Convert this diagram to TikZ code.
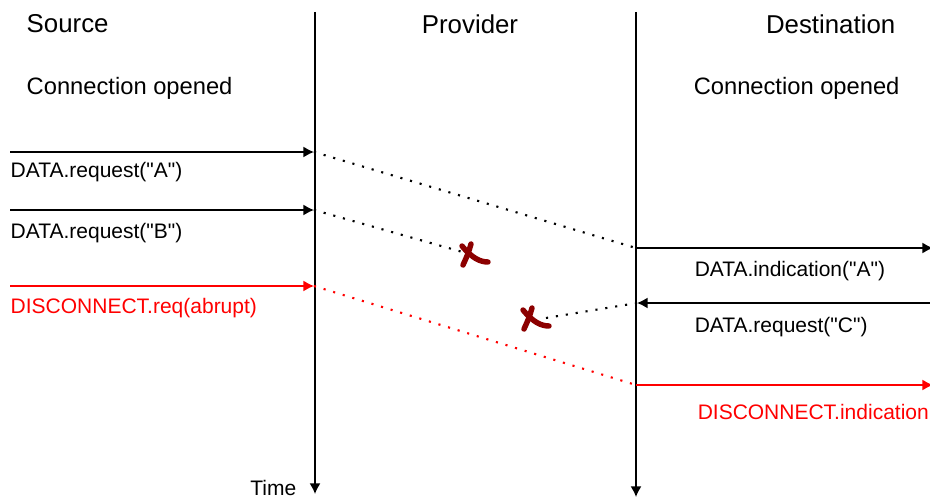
\documentclass[tikz,border=0pt]{standalone}
\usepackage{fontspec}
\setmainfont{Liberation Sans}[Ligatures=TeXOff]
\usepackage{tikz}
\usetikzlibrary{arrows.meta}
\definecolor{darkred}{RGB}{140,0,0}

\begin{document}
\begin{tikzpicture}[x=0.02cm, y=-0.02cm, line width=0.85pt, >={Latex[length=6pt,width=6.2pt]},
  head/.style={font=\fontsize{14.7}{17}\selectfont, inner sep=0pt},
  state/.style={font=\fontsize{13.5}{16}\selectfont, inner sep=0pt, anchor=west},
  prim/.style={font=\fontsize{11.95}{14}\selectfont, inner sep=0pt, anchor=west},
  lost/.style={dash pattern=on 1.2pt off 4.5pt, line width=1.2pt},
  cross/.style={draw=darkred, line width=3.1pt, line cap=round}]
\useasboundingbox (0,0) rectangle (930,499);
\coordinate (LT) at (315,12) ;
\coordinate (LB) at (315,494) ;
\coordinate (RT) at (636,12) ;
\coordinate (RB) at (636,497) ;
\coordinate (A0) at (10,152) ;
\coordinate (A1) at (314,152) ;
\coordinate (A2) at (636,248) ;
\coordinate (A3) at (933,248) ;
\coordinate (B0) at (10,210) ;
\coordinate (B1) at (314,210) ;
\coordinate (B2) at (466,253) ;
\coordinate (C0) at (930,303) ;
\coordinate (C1) at (637,303) ;
\coordinate (C2) at (540,319) ;
\coordinate (E0) at (10,286) ;
\coordinate (E1) at (314,286) ;
\coordinate (E2) at (636,385) ;
\coordinate (E3) at (933,385) ;
% lifelines
\draw[black] [->] (LT) -- (LB);
\draw[black] [->] (RT) -- (RB);
% headers
\node[head, anchor=west] (src) at (26,24) {Source};
\node[head] (prv) at (470,24) {Provider};
\node[head, anchor=east] (dst) at (896,24) {Destination};
\node[state] (open1) at (26,88) {Connection opened};
\node[state] (open2) at (693,88) {Connection opened};
\node[font=\fontsize{11.95}{14}\selectfont, inner sep=0pt, anchor=east] (time) at (297,488) {Time};
% primitives
\draw[black] [->] (A0) -- (A1);
\draw[black, lost] (A1) -- (A2);
\draw[black] [->] (A2) -- (A3);
\node[prim] (reqA) at (10,172) {DATA.request("A")};
\node[prim] (indA) at (694,271) {DATA.indication("A")};
\draw[black] [->] (B0) -- (B1);
\draw[black, lost] (B1) -- (B2);
\node[prim] (reqB) at (10,233) {DATA.request("B")};
\draw[black] [->] (C0) -- (C1);
\draw[black, lost] (C1) -- (C2);
\node[prim] (reqC) at (694,327) {DATA.request("C")};
\draw[red] [->] (E0) -- (E1);
\draw[red, lost] (E1) -- (E2);
\draw[red] [->] (E2) -- (E3);
\node[prim, red] (dreq) at (10,308) {DISCONNECT.req(abrupt)};
\node[prim, red] (dind) at (697,412) {DISCONNECT.indication};
% lost messages
\begin{scope}[shift={(0,0)}]
\draw[cross] (471,244) .. controls (468,254) .. (463,265);
\draw[cross] (462,246) .. controls (472,258) and (480,262) .. (488,262);
\end{scope}
\begin{scope}[shift={(61,64)}]
\draw[cross] (471,244) .. controls (468,254) .. (463,265);
\draw[cross] (462,246) .. controls (472,258) and (480,262) .. (488,262);
\end{scope}
\end{tikzpicture}
\end{document}
